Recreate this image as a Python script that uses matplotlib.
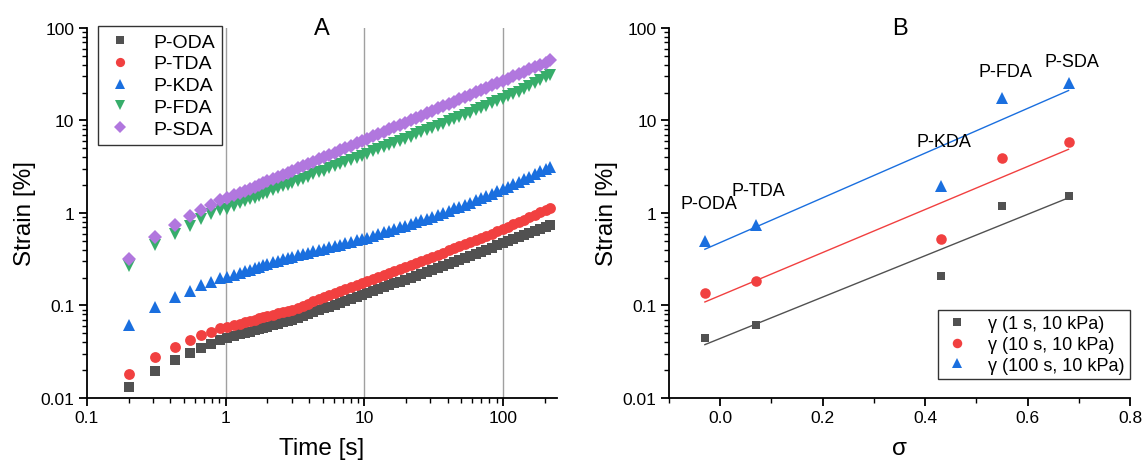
import numpy as np
import matplotlib
matplotlib.use("Agg")
import matplotlib.pyplot as plt
from matplotlib.ticker import LogLocator, NullFormatter, FixedLocator, MultipleLocator

plt.rcParams['font.family'] = ['Liberation Sans', 'DejaVu Sans']

# ---- Panel A: creep strain vs time ----
time_s = [0.2, 0.31, 0.43, 0.55, 0.67, 0.79, 0.91,
          1.03, 1.15, 1.27, 1.39, 1.51, 1.63, 1.75, 1.87, 2.0, 2.2, 2.4, 2.6, 2.8, 3.0,
          3.3, 3.6, 3.9, 4.3, 4.7, 5.1, 5.6, 6.1, 6.7, 7.3, 8.0, 8.8, 9.6, 10.5,
          11.5, 12.6, 13.8, 15.1, 16.5, 18.0, 19.7, 21.6, 23.6, 25.8, 28.2, 30.9,
          33.8, 37, 40.5, 44.3, 48.5, 53, 58, 63.5, 69.5, 76, 83, 91, 99.5,
          109, 119, 130, 142, 155, 170, 186, 203, 220]

oda = [0.013, 0.0198, 0.026, 0.031, 0.035, 0.038, 0.042,
       0.0446, 0.0467, 0.0486, 0.0505, 0.0523, 0.0541, 0.0557, 0.0573, 0.0589, 0.0614, 0.0637, 0.0659, 0.0679, 0.070,
       0.0736, 0.0771, 0.0805, 0.0847, 0.0889, 0.0929, 0.0975, 0.102, 0.107, 0.112, 0.118, 0.124, 0.130, 0.136,
       0.143, 0.150, 0.157, 0.165, 0.173, 0.181, 0.190, 0.199, 0.208, 0.218, 0.229, 0.240,
       0.253, 0.266, 0.280, 0.295, 0.311, 0.327, 0.344, 0.363, 0.382, 0.402, 0.423, 0.446, 0.469,
       0.493, 0.519, 0.545, 0.573, 0.602, 0.634, 0.668, 0.701, 0.735]

tda = [0.018, 0.028, 0.036, 0.042, 0.048, 0.052, 0.057,
       0.0586, 0.0613, 0.0638, 0.0661, 0.0684, 0.0705, 0.0724, 0.0744, 0.0764, 0.0794, 0.0822, 0.0849, 0.0875, 0.090,
       0.0951, 0.0999, 0.1047, 0.1107, 0.1165, 0.1222, 0.1288, 0.1353, 0.1429, 0.150, 0.1582, 0.167, 0.1758, 0.1848,
       0.1944, 0.204, 0.215, 0.226, 0.237, 0.249, 0.262, 0.275, 0.289, 0.304, 0.319, 0.336,
       0.354, 0.373, 0.394, 0.415, 0.438, 0.461, 0.486, 0.513, 0.541, 0.570, 0.600, 0.634, 0.668,
       0.710, 0.754, 0.800, 0.848, 0.900, 0.957, 1.019, 1.080, 1.140]

kda = [0.061, 0.0975, 0.125, 0.145, 0.165, 0.18, 0.198,
       0.203, 0.214, 0.224, 0.234, 0.244, 0.253, 0.262, 0.271, 0.280, 0.292, 0.303, 0.315, 0.325, 0.335,
       0.348, 0.359, 0.370, 0.384, 0.397, 0.410, 0.425, 0.439, 0.455, 0.470, 0.486, 0.505, 0.521, 0.542,
       0.566, 0.590, 0.617, 0.643, 0.670, 0.698, 0.728, 0.760, 0.793, 0.830, 0.871, 0.916,
       0.962, 1.01, 1.06, 1.12, 1.17, 1.23, 1.29, 1.37, 1.45, 1.53, 1.62, 1.71, 1.81,
       1.93, 2.05, 2.18, 2.32, 2.47, 2.63, 2.81, 2.98, 3.15]

fda = [0.27, 0.45, 0.60, 0.73, 0.87, 0.97, 1.07,
       1.11, 1.19, 1.27, 1.34, 1.40, 1.47, 1.53, 1.60, 1.66, 1.76, 1.85, 1.95, 2.03, 2.11,
       2.24, 2.35, 2.46, 2.61, 2.75, 2.88, 3.04, 3.19, 3.38, 3.55, 3.75, 3.96, 4.17, 4.39,
       4.63, 4.89, 5.16, 5.44, 5.73, 6.03, 6.35, 6.71, 7.08, 7.46, 7.85, 8.30,
       8.77, 9.27, 9.77, 10.3, 10.9, 11.5, 12.2, 12.9, 13.7, 14.5, 15.3, 16.2, 17.1,
       18.2, 19.4, 20.5, 21.8, 23.4, 25.2, 27.3, 29.2, 31.2]

sda = [0.32, 0.55, 0.75, 0.92, 1.09, 1.23, 1.37,
       1.44, 1.55, 1.65, 1.75, 1.84, 1.93, 2.02, 2.11, 2.20, 2.34, 2.47, 2.60, 2.73, 2.85,
       3.03, 3.21, 3.37, 3.59, 3.80, 4.01, 4.25, 4.49, 4.77, 5.04, 5.35, 5.68, 6.00, 6.35,
       6.74, 7.14, 7.58, 8.03, 8.49, 8.98, 9.51, 10.1, 10.7, 11.3, 12.0, 12.7,
       13.5, 14.3, 15.1, 16.0, 16.9, 17.9, 19.0, 20.1, 21.3, 22.6, 23.9, 25.3, 26.9,
       28.4, 30.1, 31.9, 33.7, 35.6, 37.8, 40.1, 42.3, 44.6]

# ---- Panel B: strain vs sigma ----
sigma = [-0.03, 0.07, 0.43, 0.55, 0.68]
names = ["P-ODA", "P-TDA", "P-KDA", "P-FDA", "P-SDA"]
strain_1s = [0.045, 0.061, 0.208, 1.2, 1.53]
strain_10s = [0.138, 0.184, 0.527, 3.97, 5.83]
strain_100s = [0.497, 0.748, 1.94, 17.6, 25.6]
label_x = [-0.022, 0.075, 0.436, 0.556, 0.687]
label_y = [1.26, 1.73, 5.97, 34.2, 43.2]

c_black = "#515151"
c_red = "#F14040"
c_blue = "#1A6FDF"
c_green = "#37AD6B"
c_purple = "#B177DE"

fig = plt.figure(figsize=(11.44, 4.64), dpi=100)
axA = fig.add_axes([0.0760, 0.1401, 0.4108, 0.7974])
axB = fig.add_axes([0.5848, 0.1401, 0.4030, 0.7974])

def style_axis(ax):
    for s in ["top", "right"]:
        ax.spines[s].set_visible(False)
    for s in ["left", "bottom"]:
        ax.spines[s].set_linewidth(1.3)
    ax.tick_params(which="major", direction="out", length=6, width=1.3, labelsize=12.5, pad=3)
    ax.tick_params(which="minor", direction="out", length=3.5, width=1.0)
    ax.set_yscale("log")
    ax.set_ylim(0.01, 100)
    ax.yaxis.set_major_locator(FixedLocator([0.01, 0.1, 1, 10, 100]))
    ax.set_yticklabels(["0.01", "0.1", "1", "10", "100"])
    ax.yaxis.set_minor_locator(LogLocator(base=10, subs=np.arange(2, 10)))
    ax.yaxis.set_minor_formatter(NullFormatter())
    ax.set_ylabel("Strain [%]", fontsize=17.5, labelpad=3)

# Panel A
style_axis(axA)
axA.set_xscale("log")
axA.set_xlim(0.1, 245)
axA.xaxis.set_major_locator(FixedLocator([0.1, 1, 10, 100]))
axA.set_xticklabels(["0.1", "1", "10", "100"])
axA.xaxis.set_minor_locator(LogLocator(base=10, subs=np.arange(2, 10)))
axA.xaxis.set_minor_formatter(NullFormatter())
for gx in [1, 10, 100]:
    axA.axvline(gx, color="#a0a0a0", lw=1.0, zorder=0)

mk = dict(linestyle="none", markeredgewidth=0)
axA.plot(time_s, oda, "s", color=c_black, ms=6.5, label="P-ODA", **mk)
axA.plot(time_s, tda, "o", color=c_red, ms=7.8, label="P-TDA", **mk)
axA.plot(time_s, kda, "^", color=c_blue, ms=8.5, label="P-KDA", **mk)
axA.plot(time_s, fda, "v", color=c_green, ms=8.5, label="P-FDA", **mk)
axA.plot(time_s, sda, "D", color=c_purple, ms=7.0, label="P-SDA", **mk)
axA.set_xlabel("Time [s]", fontsize=17.5, labelpad=8)
axA.set_title("A", fontsize=17, y=0.985, pad=0)
legA = axA.legend(loc="upper left", bbox_to_anchor=(0.0234, 1.005), borderaxespad=0,
                  fontsize=14, frameon=True, fancybox=False, handletextpad=0.9,
                  borderpad=0.35, labelspacing=0.22, handlelength=1.6, markerscale=0.85)
legA.get_frame().set_edgecolor("black")
legA.get_frame().set_linewidth(1.0)

# Panel B
style_axis(axB)
axB.set_xlim(-0.1, 0.8)
axB.xaxis.set_major_locator(FixedLocator([0.0, 0.2, 0.4, 0.6, 0.8]))
axB.set_xticklabels(["0.0", "0.2", "0.4", "0.6", "0.8"])
axB.xaxis.set_minor_locator(MultipleLocator(0.1))

sig = np.array(sigma)
for vals, col, m, ms, lab in [(strain_1s, c_black, "s", 6.3, "γ (1 s, 10 kPa)"),
                              (strain_10s, c_red, "o", 7.6, "γ (10 s, 10 kPa)"),
                              (strain_100s, c_blue, "^", 8.3, "γ (100 s, 10 kPa)")]:
    axB.plot(sigma, vals, m, color=col, ms=ms, label=lab, **mk)
    k, b = np.polyfit(sig, np.log10(vals), 1)
    xx = np.array([sig.min(), sig.max()])
    axB.plot(xx, 10 ** (k * xx + b), "-", color=col, lw=1.0)

for nm, lx, ly in zip(names, label_x, label_y):
    axB.text(lx, ly, nm, fontsize=13, ha="center", va="center")

axB.set_xlabel("σ", fontsize=17.5, labelpad=8)
axB.set_title("B", fontsize=17, y=0.985, pad=0)
legB = axB.legend(loc="lower right", bbox_to_anchor=(1.0, 0.051), borderaxespad=0,
                  fontsize=13, frameon=True, fancybox=False, handletextpad=0.9,
                  borderpad=0.3, labelspacing=0.2, handlelength=1.6, markerscale=0.9)
legB.get_frame().set_edgecolor("black")
legB.get_frame().set_linewidth(1.0)

fig.savefig("out.png", dpi=100)
